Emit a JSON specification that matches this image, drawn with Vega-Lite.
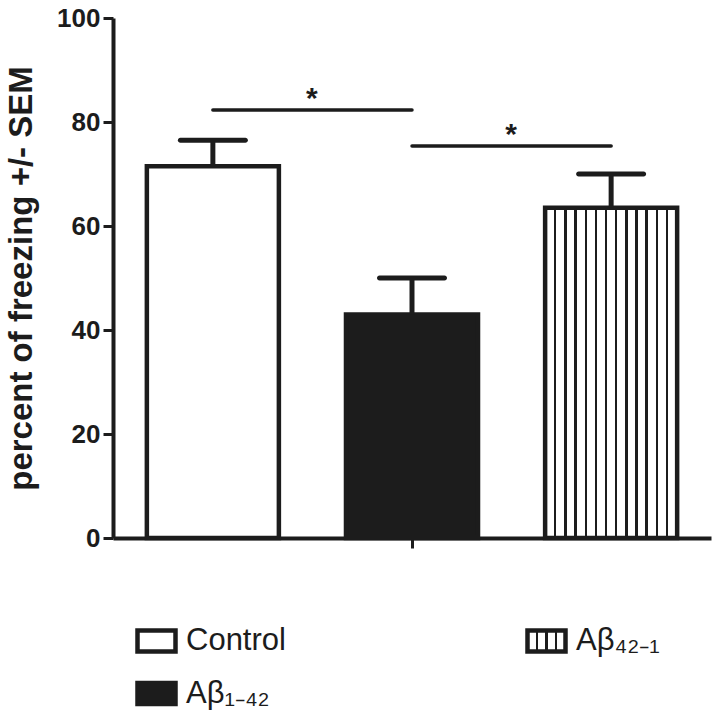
{
  "$schema": "https://vega.github.io/schema/vega-lite/v6.json",
  "width": 598,
  "height": 520,
  "autosize": "none",
  "padding": {"left": 113, "top": 18, "right": 8, "bottom": 178},
  "config": {
    "view": {"stroke": null},
    "font": "Liberation Sans",
    "axis": {"grid": false, "domainColor": "#1c1c1c", "tickColor": "#1c1c1c", "labelColor": "#1c1c1c", "titleColor": "#1c1c1c"}
  },
  "datasets": {
    "bars": [
      {"group": "Control", "mean": 71.5, "upper": 76.5},
      {"group": "Aβ₁₋₄₂", "mean": 43, "upper": 50},
      {"group": "Aβ₄₂₋₁", "mean": 63.5, "upper": 70}
    ],
    "sig": [
      {"a": "Control", "b": "Aβ₁₋₄₂", "y": 82.3, "label": "*"},
      {"a": "Aβ₁₋₄₂", "b": "Aβ₄₂₋₁", "y": 75.4, "label": "*"}
    ]
  },
  "layer": [
    {
      "data": {"name": "bars"},
      "mark": {"type": "bar", "stroke": "#1c1c1c", "strokeWidth": 4.5},
      "encoding": {
        "x": {"field": "group", "type": "nominal", "scale": {"domain": ["Control", "Aβ₁₋₄₂", "Aβ₄₂₋₁"], "paddingInner": 0.337, "paddingOuter": 0.17},
          "axis": {"title": null, "labels": false, "values": ["Aβ₁₋₄₂"], "tickSize": 10, "tickWidth": 3, "domainWidth": 4}},
        "y": {"field": "mean", "type": "quantitative", "scale": {"domain": [0, 100], "nice": false},
          "axis": {"values": [0, 20, 40, 60, 80, 100], "tickSize": 10, "tickWidth": 3, "domainWidth": 4, "labelFontSize": 26, "labelFontWeight": "bold", "labelPadding": 3, "title": "percent of freezing +/- SEM", "titleFontSize": 33, "titleFontWeight": "bold", "titlePadding": 18}},
        "fill": {
          "condition": {"test": "datum.group === 'Aβ₄₂₋₁'", "value": {"gradient": "linear", "x1": 0, "y1": 0, "x2": 1, "y2": 0, "stops": [
              {"offset": 0, "color": "white"},
              {"offset": 0.0679, "color": "white"}, {"offset": 0.0679, "color": "#1c1c1c"}, {"offset": 0.0859, "color": "#1c1c1c"}, {"offset": 0.0859, "color": "white"},
              {"offset": 0.1448, "color": "white"}, {"offset": 0.1448, "color": "#1c1c1c"}, {"offset": 0.1628, "color": "#1c1c1c"}, {"offset": 0.1628, "color": "white"},
              {"offset": 0.2218, "color": "white"}, {"offset": 0.2218, "color": "#1c1c1c"}, {"offset": 0.2398, "color": "#1c1c1c"}, {"offset": 0.2398, "color": "white"},
              {"offset": 0.2987, "color": "white"}, {"offset": 0.2987, "color": "#1c1c1c"}, {"offset": 0.3167, "color": "#1c1c1c"}, {"offset": 0.3167, "color": "white"},
              {"offset": 0.3756, "color": "white"}, {"offset": 0.3756, "color": "#1c1c1c"}, {"offset": 0.3936, "color": "#1c1c1c"}, {"offset": 0.3936, "color": "white"},
              {"offset": 0.4525, "color": "white"}, {"offset": 0.4525, "color": "#1c1c1c"}, {"offset": 0.4705, "color": "#1c1c1c"}, {"offset": 0.4705, "color": "white"},
              {"offset": 0.5295, "color": "white"}, {"offset": 0.5295, "color": "#1c1c1c"}, {"offset": 0.5475, "color": "#1c1c1c"}, {"offset": 0.5475, "color": "white"},
              {"offset": 0.6064, "color": "white"}, {"offset": 0.6064, "color": "#1c1c1c"}, {"offset": 0.6244, "color": "#1c1c1c"}, {"offset": 0.6244, "color": "white"},
              {"offset": 0.6833, "color": "white"}, {"offset": 0.6833, "color": "#1c1c1c"}, {"offset": 0.7013, "color": "#1c1c1c"}, {"offset": 0.7013, "color": "white"},
              {"offset": 0.7602, "color": "white"}, {"offset": 0.7602, "color": "#1c1c1c"}, {"offset": 0.7782, "color": "#1c1c1c"}, {"offset": 0.7782, "color": "white"},
              {"offset": 0.8372, "color": "white"}, {"offset": 0.8372, "color": "#1c1c1c"}, {"offset": 0.8552, "color": "#1c1c1c"}, {"offset": 0.8552, "color": "white"},
              {"offset": 0.9141, "color": "white"}, {"offset": 0.9141, "color": "#1c1c1c"}, {"offset": 0.9321, "color": "#1c1c1c"}, {"offset": 0.9321, "color": "white"},
              {"offset": 1, "color": "white"}
            ]}},
          "field": "group", "type": "nominal",
          "scale": {"domain": ["Control", "Aβ₁₋₄₂", "Aβ₄₂₋₁"], "range": ["white", "#1c1c1c", {"expr": "{gradient: 'linear', x1: 0, y1: 0, x2: 1, y2: 0, stops: [{offset: 0, color: 'white'}, {offset: 0.22, color: 'white'}, {offset: 0.22, color: '#1c1c1c'}, {offset: 0.28, color: '#1c1c1c'}, {offset: 0.28, color: 'white'}, {offset: 0.47, color: 'white'}, {offset: 0.47, color: '#1c1c1c'}, {offset: 0.53, color: '#1c1c1c'}, {offset: 0.53, color: 'white'}, {offset: 0.72, color: 'white'}, {offset: 0.72, color: '#1c1c1c'}, {offset: 0.78, color: '#1c1c1c'}, {offset: 0.78, color: 'white'}, {offset: 1, color: 'white'}]}"}]},
          "legend": {
            "title": null, "orient": "none", "legendX": 22, "legendY": 601, "columns": 2, "columnPadding": 232, "rowPadding": 11,
            "symbolType": "M-1,-0.553H1V0.553H-1Z", "symbolSize": 1444, "symbolStrokeWidth": 4.5, "symbolStrokeColor": "#1c1c1c",
            "labelFontSize": 31, "labelFont": "Liberation Sans", "labelColor": "#1c1c1c", "labelOffset": 8, "padding": 0, "labelLimit": 300
          }
        }
      }
    },
    {
      "data": {"name": "bars"},
      "mark": {"type": "rule", "stroke": "#1c1c1c", "strokeWidth": 5},
      "encoding": {
        "x": {"field": "group", "type": "nominal", "scale": {"domain": ["Control", "Aβ₁₋₄₂", "Aβ₄₂₋₁"], "paddingInner": 0.337, "paddingOuter": 0.17},
          "axis": {"title": null, "labels": false, "values": ["Aβ₁₋₄₂"], "tickSize": 10, "tickWidth": 3, "domainWidth": 4}},
        "y": {"field": "mean", "type": "quantitative", "scale": {"domain": [0, 100], "nice": false},
          "axis": {"values": [0, 20, 40, 60, 80, 100], "tickSize": 10, "tickWidth": 3, "domainWidth": 4, "labelFontSize": 26, "labelFontWeight": "bold", "labelPadding": 3, "title": "percent of freezing +/- SEM", "titleFontSize": 33, "titleFontWeight": "bold", "titlePadding": 18}},
        "y2": {"field": "upper"}
      }
    },
    {
      "data": {"name": "bars"},
      "mark": {"type": "tick", "color": "#1c1c1c", "size": 70, "thickness": 5, "cornerRadius": 2.5, "opacity": 1},
      "encoding": {
        "x": {"field": "group", "type": "nominal", "scale": {"domain": ["Control", "Aβ₁₋₄₂", "Aβ₄₂₋₁"], "paddingInner": 0.337, "paddingOuter": 0.17},
          "axis": {"title": null, "labels": false, "values": ["Aβ₁₋₄₂"], "tickSize": 10, "tickWidth": 3, "domainWidth": 4}},
        "y": {"field": "upper", "type": "quantitative", "scale": {"domain": [0, 100], "nice": false},
          "axis": {"values": [0, 20, 40, 60, 80, 100], "tickSize": 10, "tickWidth": 3, "domainWidth": 4, "labelFontSize": 26, "labelFontWeight": "bold", "labelPadding": 3, "title": "percent of freezing +/- SEM", "titleFontSize": 33, "titleFontWeight": "bold", "titlePadding": 18}}
      }
    },
    {
      "data": {"name": "sig"},
      "mark": {"type": "rule", "stroke": "#1c1c1c", "strokeWidth": 3.5, "strokeCap": "round"},
      "encoding": {
        "x": {"field": "a", "type": "nominal", "scale": {"domain": ["Control", "Aβ₁₋₄₂", "Aβ₄₂₋₁"], "paddingInner": 0.337, "paddingOuter": 0.17},
          "axis": {"title": null, "labels": false, "values": ["Aβ₁₋₄₂"], "tickSize": 10, "tickWidth": 3, "domainWidth": 4}},
        "x2": {"field": "b"},
        "y": {"field": "y", "type": "quantitative", "scale": {"domain": [0, 100], "nice": false},
          "axis": {"values": [0, 20, 40, 60, 80, 100], "tickSize": 10, "tickWidth": 3, "domainWidth": 4, "labelFontSize": 26, "labelFontWeight": "bold", "labelPadding": 3, "title": "percent of freezing +/- SEM", "titleFontSize": 33, "titleFontWeight": "bold", "titlePadding": 18}}
      }
    },
    {
      "data": {"name": "sig"},
      "mark": {"type": "text", "color": "#1c1c1c", "fontSize": 30, "fontWeight": "bold", "baseline": "alphabetic", "dx": 99, "dy": -2},
      "encoding": {
        "x": {"field": "a", "type": "nominal", "scale": {"domain": ["Control", "Aβ₁₋₄₂", "Aβ₄₂₋₁"], "paddingInner": 0.337, "paddingOuter": 0.17},
          "axis": {"title": null, "labels": false, "values": ["Aβ₁₋₄₂"], "tickSize": 10, "tickWidth": 3, "domainWidth": 4}},
        "y": {"field": "y", "type": "quantitative", "scale": {"domain": [0, 100], "nice": false},
          "axis": {"values": [0, 20, 40, 60, 80, 100], "tickSize": 10, "tickWidth": 3, "domainWidth": 4, "labelFontSize": 26, "labelFontWeight": "bold", "labelPadding": 3, "title": "percent of freezing +/- SEM", "titleFontSize": 33, "titleFontWeight": "bold", "titlePadding": 18}},
        "text": {"field": "label"}
      }
    }
  ]
}
